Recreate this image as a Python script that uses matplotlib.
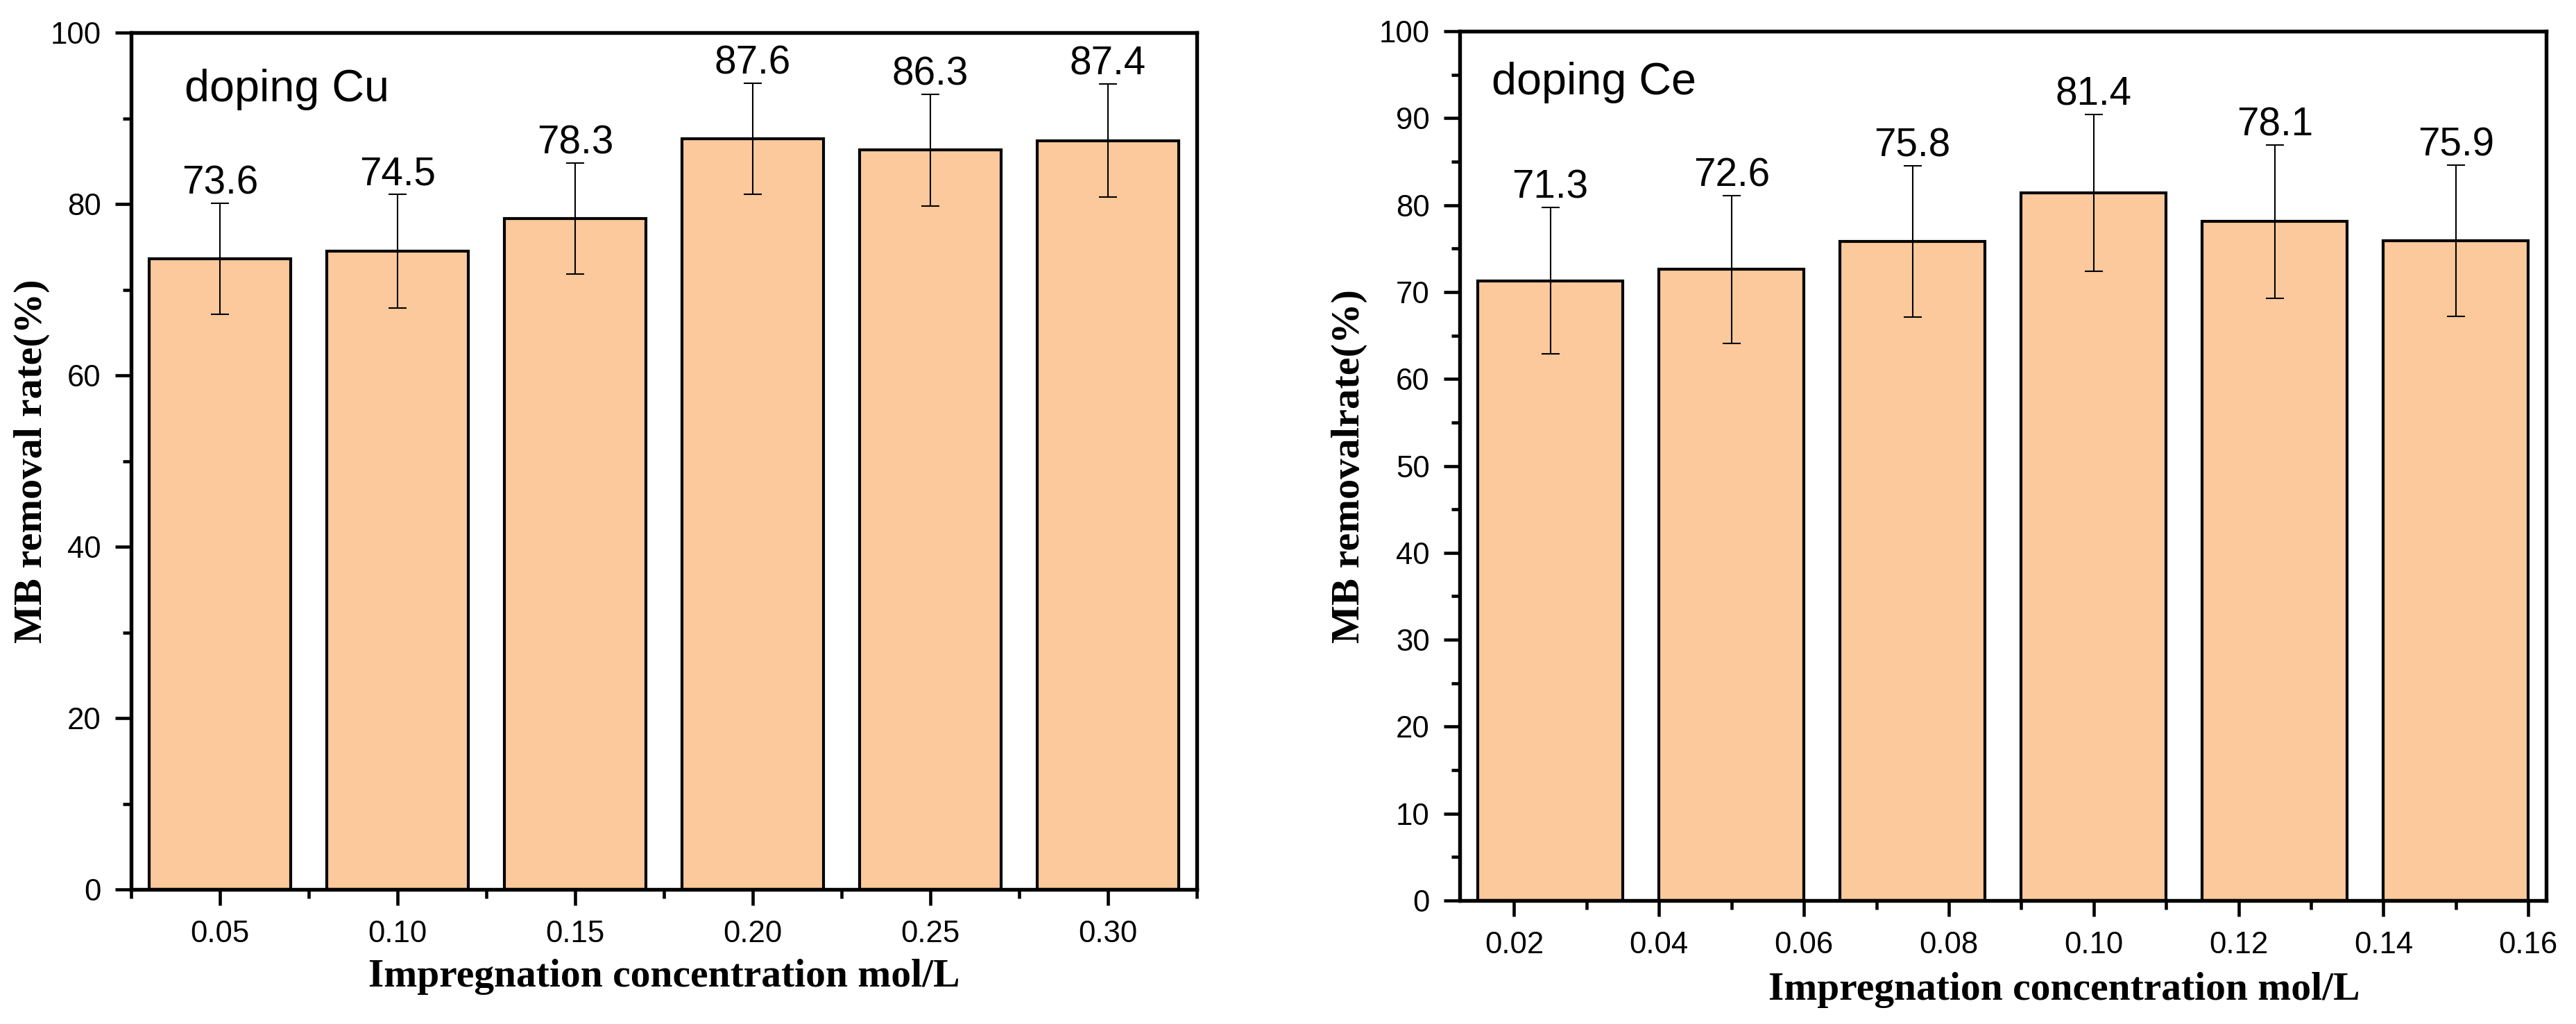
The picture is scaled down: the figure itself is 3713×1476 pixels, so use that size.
import matplotlib
matplotlib.use("Agg")
import matplotlib.pyplot as plt
from matplotlib.ticker import MultipleLocator, FixedLocator

# Dados do Cu
cu_conc = [0.05, 0.10, 0.15, 0.20, 0.25, 0.30]
cu_rate = [73.6, 74.5, 78.3, 87.6, 86.3, 87.4]
cu_err = [6.5, 6.6, 6.5, 6.5, 6.5, 6.6]
cu_ticks = [0.05, 0.10, 0.15, 0.20, 0.25, 0.30]

# Dados do Ce
ce_conc = [0.025, 0.05, 0.075, 0.10, 0.125, 0.15]
ce_rate = [71.3, 72.6, 75.8, 81.4, 78.1, 75.9]
ce_err = [8.4, 8.5, 8.7, 9.0, 8.8, 8.7]
ce_ticks = [0.02, 0.04, 0.06, 0.08, 0.10, 0.12, 0.14, 0.16]

COR_BARRA = '#FBC99B'
SANS = 'Liberation Sans'
SERIF = 'Liberation Serif'


def painel(ax, x, y, err, largura, rotulo_y, texto, texto_pos, label_x, label_y):
    ax.bar(x, y, width=largura, color=COR_BARRA, edgecolor='black', linewidth=1.0, zorder=2)
    ax.errorbar(x, y, yerr=err, fmt='none', ecolor='black', elinewidth=0.5,
                capsize=3.2, capthick=0.5, zorder=3)
    for xi, yi, ei in zip(x, y, err):
        ax.annotate(f"{yi:.1f}", (xi, yi + ei), xytext=(0, 3.3), textcoords='offset points',
                    ha='center', va='baseline', fontsize=13.6, family=SANS)

    ax.text(texto_pos[0], texto_pos[1], texto, transform=ax.transAxes,
            fontsize=15.5, family=SANS, va='baseline', ha='left')

    ax.set_xlabel("Impregnation concentration mol/L", family=SERIF, fontweight='bold',
                  fontsize=13.8)
    ax.xaxis.set_label_coords(label_x, label_y, transform=ax.transAxes)
    ax.xaxis.label.set_va('top')
    ax.set_ylabel(rotulo_y, family=SERIF, fontweight='bold', fontsize=14)

    for s in ax.spines.values():
        s.set_linewidth(1.3)
    ax.tick_params(which='major', direction='out', length=5.6, width=1.1,
                   labelsize=10.5, pad=4.8)
    ax.tick_params(which='minor', direction='out', length=3.0, width=1.1)
    ax.tick_params(axis='x', which='major', pad=5)
    for lab in ax.get_xticklabels() + ax.get_yticklabels():
        lab.set_family(SANS)


fig = plt.figure(figsize=(3713 / 300, 1476 / 300), dpi=300)

# Painel esquerdo (Cu)
ax1 = fig.add_axes([0.0509, 0.1314, 0.4137, 0.8367])
ax1.set_xlim(0.025, 0.325)
ax1.set_ylim(0, 100)
ax1.xaxis.set_major_locator(FixedLocator(cu_ticks))
ax1.xaxis.set_minor_locator(FixedLocator([0.025, 0.075, 0.125, 0.175, 0.225, 0.275, 0.325]))
ax1.yaxis.set_major_locator(MultipleLocator(20))
ax1.yaxis.set_minor_locator(MultipleLocator(10))
ax1.set_xticklabels([f"{t:.2f}" for t in cu_ticks])
painel(ax1, cu_conc, cu_rate, cu_err, 0.04, "MB removal rate(%)", "doping Cu",
       (0.050, 0.92), 0.5, -0.081)
ax1.yaxis.set_label_coords(-0.076, 0.5)

# Painel direito (Ce)
ax2 = fig.add_axes([0.5667, 0.1206, 0.4218, 0.8489])
ax2.set_xlim(0.0125, 0.1625)
ax2.set_ylim(0, 100)
ax2.xaxis.set_major_locator(FixedLocator(ce_ticks))
ax2.xaxis.set_minor_locator(FixedLocator([0.03, 0.05, 0.07, 0.09, 0.11, 0.13, 0.15]))
ax2.yaxis.set_major_locator(MultipleLocator(10))
ax2.yaxis.set_minor_locator(MultipleLocator(5))
ax2.set_xticklabels([f"{t:.2f}" for t in ce_ticks])
painel(ax2, ce_conc, ce_rate, ce_err, 0.02, "MB removalrate(%)", "doping Ce",
       (0.029, 0.927), 0.556, -0.082)
ax2.yaxis.set_label_coords(-0.085, 0.5)

fig.savefig("out.png", dpi=300)
plt.close(fig)
